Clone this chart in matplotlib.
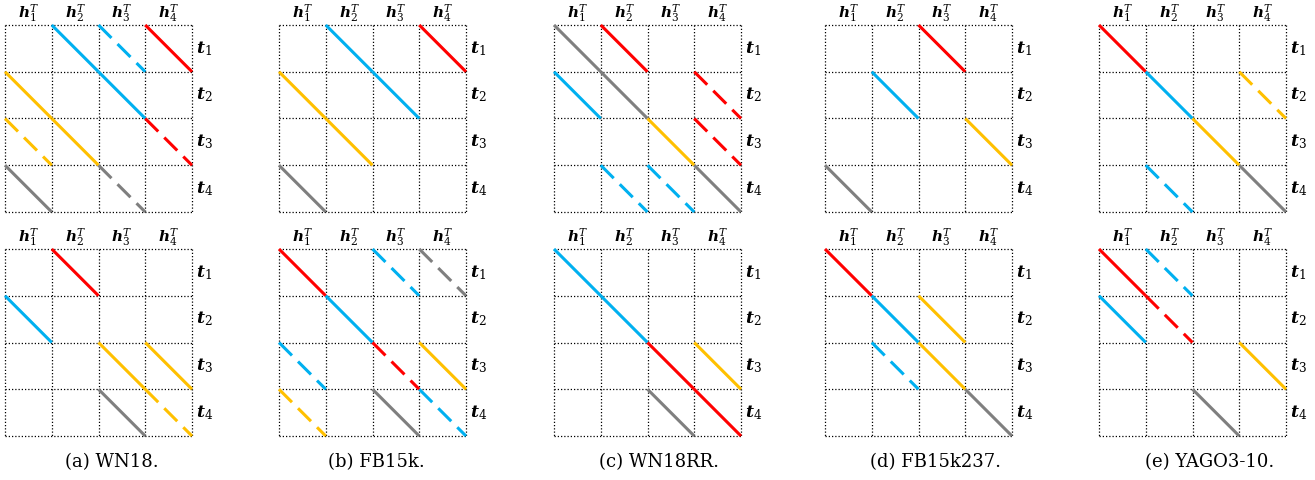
import matplotlib.pyplot as plt

plt.rcParams['mathtext.fontset'] = 'dejavuserif'

# each entry: (row t_i, column h_j, colour, style)  rows/cols are 0-based
wn18_top = [(0, 1, 'b', '-'), (0, 2, 'b', '--'), (0, 3, 'r', '-'),
            (1, 0, 'y', '-'), (1, 2, 'b', '-'),
            (2, 0, 'y', '--'), (2, 1, 'y', '-'), (2, 3, 'r', '--'),
            (3, 0, 'g', '-'), (3, 2, 'g', '--')]
wn18_bot = [(0, 1, 'r', '-'), (1, 0, 'b', '-'),
            (2, 2, 'y', '-'), (2, 3, 'y', '-'),
            (3, 2, 'g', '-'), (3, 3, 'y', '--')]

fb15k_top = [(0, 1, 'b', '-'), (0, 3, 'r', '-'),
             (1, 0, 'y', '-'), (1, 2, 'b', '-'),
             (2, 1, 'y', '-'), (3, 0, 'g', '-')]
fb15k_bot = [(0, 0, 'r', '-'), (0, 2, 'b', '--'), (0, 3, 'g', '--'),
             (1, 1, 'b', '-'),
             (2, 0, 'b', '--'), (2, 2, 'r', '--'), (2, 3, 'y', '-'),
             (3, 0, 'y', '--'), (3, 2, 'g', '-'), (3, 3, 'b', '--')]

wn18rr_top = [(0, 0, 'g', '-'), (0, 1, 'r', '-'),
              (1, 0, 'b', '-'), (1, 1, 'g', '-'), (1, 3, 'r', '--'),
              (2, 2, 'y', '-'), (2, 3, 'r', '--'),
              (3, 1, 'b', '--'), (3, 2, 'b', '--'), (3, 3, 'g', '-')]
wn18rr_bot = [(0, 0, 'b', '-'), (1, 1, 'b', '-'),
              (2, 2, 'r', '-'), (2, 3, 'y', '-'),
              (3, 2, 'g', '-'), (3, 3, 'r', '-')]

fb237_top = [(0, 2, 'r', '-'), (1, 1, 'b', '-'),
             (2, 3, 'y', '-'), (3, 0, 'g', '-')]
fb237_bot = [(0, 0, 'r', '-'), (1, 1, 'b', '-'), (1, 2, 'y', '-'),
             (2, 1, 'b', '--'), (2, 2, 'y', '-'), (3, 3, 'g', '-')]

yago_top = [(0, 0, 'r', '-'), (1, 1, 'b', '-'), (1, 3, 'y', '--'),
            (2, 2, 'y', '-'), (3, 1, 'b', '--'), (3, 3, 'g', '-')]
yago_bot = [(0, 0, 'r', '-'), (0, 1, 'b', '--'),
            (1, 0, 'b', '-'), (1, 1, 'r', '--'),
            (2, 3, 'y', '-'), (3, 2, 'g', '-')]

captions = ['(a) WN18.', '(b) FB15k.', '(c) WN18RR.', '(d) FB15k237.', '(e) YAGO3-10.']
panels = [(wn18_top, wn18_bot), (fb15k_top, fb15k_bot), (wn18rr_top, wn18rr_bot),
          (fb237_top, fb237_bot), (yago_top, yago_bot)]
col_labels = [r'$\mathbfit{h}_%d^T$' % i for i in range(1, 5)]
row_labels = [r'$\mathbfit{t}_%d$' % i for i in range(1, 5)]

colors = {'r': '#FF0000', 'b': '#00B0F0', 'y': '#FFC000', 'g': '#7F7F7F'}

W, H = 1315, 480
fig = plt.figure(figsize=(W / 100, H / 100), dpi=100)

# layout in pixels
left_px = [5, 279, 554, 825, 1099]
cap_px = [112, 376, 659, 935, 1210]
top_px = [25, 249]
size_px = 187

for k, (top, bot) in enumerate(panels):
    for m, cells in enumerate((top, bot)):
        ax = fig.add_axes([left_px[k] / W, 1 - (top_px[m] + size_px) / H,
                           size_px / W, size_px / H])
        ax.set_xlim(0, 4)
        ax.set_ylim(4, 0)
        ax.axis('off')
        for v in range(5):
            ax.plot([v, v], [0, 4], color='black', lw=0.9, ls=(0, (1, 1.6)), clip_on=False)
            ax.plot([0, 4], [v, v], color='black', lw=0.9, ls=(0, (1, 1.6)), clip_on=False)
        for r, c, col, st in cells:
            kw = dict(color=colors[col], lw=2.2, solid_capstyle='butt', clip_on=False)
            if st == '--':
                kw.update(ls=(0, (6, 2.8)), dash_capstyle='butt')
            ax.plot([c, c + 1], [r, r + 1], **kw)
        for j in range(4):
            ax.text(j + 0.5, -0.03, col_labels[j], ha='center', va='bottom', fontsize=11)
            ax.text(4.08, j + 0.5, row_labels[j], ha='left', va='center', fontsize=12.5)
    fig.text(cap_px[k] / W, 1 - 462 / H, captions[k], ha='center', va='center',
             fontsize=13, family='DejaVu Serif')

fig.savefig('out.png', dpi=100)
